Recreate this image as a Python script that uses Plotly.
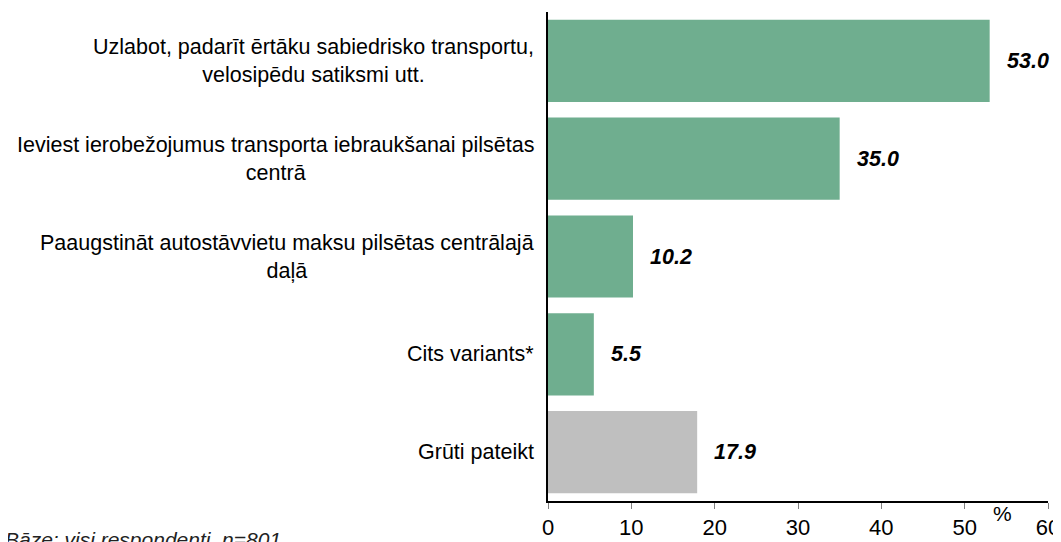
import plotly.graph_objects as go

categories = [
    "Uzlabot, padarīt ērtāku sabiedrisko transportu,<br>velosipēdu satiksmi utt.",
    "Ieviest ierobežojumus transporta iebraukšanai pilsētas<br>centrā",
    "Paaugstināt autostāvvietu maksu pilsētas centrālajā<br>daļā",
    "Cits variants*",
    "Grūti pateikt",
]
values = [53.0, 35.0, 10.2, 5.5, 17.9]
colors = ["#6FAE8F", "#6FAE8F", "#6FAE8F", "#6FAE8F", "#BFBFBF"]
x_ticks = [0, 10, 20, 30, 40, 50, 60]

FONT = "Liberation Sans, Arial, sans-serif"

fig = go.Figure()
fig.add_trace(go.Bar(
    x=values, y=categories, orientation="h",
    marker=dict(color=colors, line=dict(width=0)),
    hoverinfo="skip",
))

annotations = []
for cat, val in zip(categories, values):
    annotations.append(dict(
        x=0, xref="paper", y=cat, yref="y", xanchor="right", yanchor="middle",
        xshift=-12, text=cat, showarrow=False, align="center",
        font=dict(family=FONT, size=21.5, color="#000000"),
    ))
    annotations.append(dict(
        x=val, xref="x", y=cat, yref="y", xanchor="left", yanchor="middle",
        xshift=15, text=f"<b><i>{val:.1f}</i></b>", showarrow=False,
        font=dict(family=FONT, size=21.5, color="#000000"),
    ))

annotations.append(dict(
    x=54.5, xref="x", y=0, yref="paper", xanchor="center", yanchor="middle",
    yshift=-12, text="%", showarrow=False,
    font=dict(family=FONT, size=21, color="#000000"),
))
annotations.append(dict(
    x=0, xref="paper", y=0, yref="paper", xanchor="left", yanchor="top",
    xshift=-545, yshift=-25, text="<i>Bāze: visi respondenti, n=801</i>",
    showarrow=False, font=dict(family=FONT, size=21, color="#222222"),
))

# the page body adds an 8px offset; compensate so the plot lands where the reference has it
fig.update_layout(
    width=1053, height=534,
    margin=dict(l=540, r=13, t=4, b=41, autoexpand=False),
    plot_bgcolor="white", paper_bgcolor="white",
    bargap=0.16, showlegend=False,
    annotations=annotations,
    font=dict(family=FONT, color="#000000"),
)
fig.update_xaxes(
    range=[0, 60], tickvals=x_ticks, ticktext=[str(t) for t in x_ticks],
    showgrid=False, zeroline=False, showline=True, linecolor="#000000", linewidth=2,
    ticks="outside", ticklen=6, tickcolor="#808080", tickwidth=1,
    tickfont=dict(family=FONT, size=22, color="#000000"), automargin=False,
)
fig.update_yaxes(
    autorange="reversed", showticklabels=False, showgrid=False, zeroline=False,
    showline=True, linecolor="#000000", linewidth=2, ticks="", automargin=False,
)

fig.write_html("out.html")
